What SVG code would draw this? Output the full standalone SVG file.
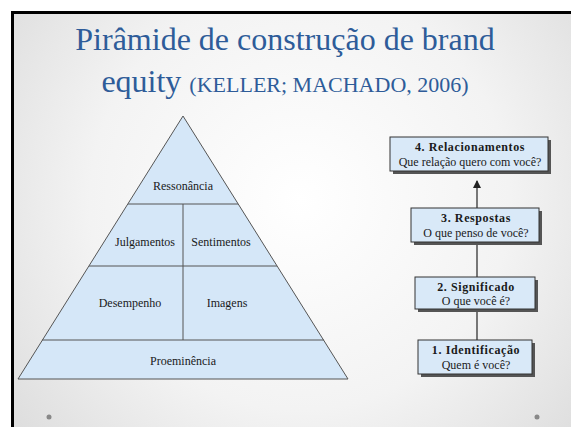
<svg xmlns="http://www.w3.org/2000/svg" width="571" height="427" viewBox="0 0 571 427">
<defs>
<radialGradient id="bg" cx="300" cy="200" r="420" gradientUnits="userSpaceOnUse">
<stop offset="0" stop-color="#ffffff"/>
<stop offset="0.5" stop-color="#f3f3f3"/>
<stop offset="1" stop-color="#d6d6d6"/>
</radialGradient>
<marker id="arr" markerWidth="8" markerHeight="8" refX="7" refY="4" orient="auto" markerUnits="userSpaceOnUse">
<path d="M0,0 L8,4 L0,8 Z" fill="#222"/>
</marker>
</defs>
<style>
.t{font-family:'Liberation Serif','DejaVu Serif',serif;fill:#1a1a1a;font-size:12px;text-anchor:middle}
.b{font-weight:bold;letter-spacing:0.6px}
.title{font-family:'Liberation Serif','DejaVu Serif',serif;fill:#2e5c99;text-anchor:middle}
.band{fill:#d5e7f8;stroke:#555;stroke-width:1}
.box{fill:#d9e9f8;stroke:#333;stroke-width:1}
.sh{fill:#555}
.con{stroke:#333;stroke-width:1.3;fill:none}
</style>
<rect width="571" height="427" fill="#ffffff"/>
<rect x="12" y="12" width="559" height="415" fill="url(#bg)"/>
<path d="M12.5,427 V12.5 H571" fill="none" stroke="#000" stroke-width="3"/>
<text class="title" x="285" y="50" font-size="32">Pirâmide de construção de brand</text>
<text class="title" x="285" y="92"><tspan font-size="32">equity </tspan><tspan font-size="22">(KELLER; MACHADO, 2006)</tspan></text>

<g id="pyramid">
<path class="band" d="M183,116 L348,379 L18,379 Z"/>
<g id="ressonancia"><text class="t" x="183" y="190">Ressonância</text></g>
<g id="julgamentos"><text class="t" x="145" y="246">Julgamentos</text></g>
<g id="sentimentos"><text class="t" x="221" y="246">Sentimentos</text></g>
<g id="desempenho"><text class="t" x="130" y="307">Desempenho</text></g>
<g id="imagens"><text class="t" x="227" y="307">Imagens</text></g>
<g id="proeminencia"><text class="t" x="183" y="365">Proeminência</text></g>
<g fill="none" stroke="#555" stroke-width="1">
<line x1="128" y1="204" x2="238" y2="204"/>
<line x1="89" y1="266" x2="277" y2="266"/>
<line x1="42" y1="340" x2="324" y2="340"/>
<line x1="183" y1="204" x2="183" y2="340"/>
</g>
</g>

<g id="connectors">
<line class="con" x1="477" y1="208" x2="477" y2="181" marker-end="url(#arr)"/>
<line class="con" x1="477" y1="243" x2="477" y2="277"/>
<line class="con" x1="477" y1="309" x2="477" y2="340"/>
</g>

<g id="n4">
<rect class="sh" x="393" y="140" width="158" height="34"/>
<rect class="box" x="390" y="137" width="158" height="34"/>
<text class="t b" x="470" y="151">4. Relacionamentos</text>
<text class="t" x="470" y="166">Que relação quero com você?</text>
</g>
<g id="n3">
<rect class="sh" x="414" y="211" width="128" height="34"/>
<rect class="box" x="411" y="208" width="128" height="34"/>
<text class="t b" x="476" y="222">3. Respostas</text>
<text class="t" x="476" y="237">O que penso de você?</text>
</g>
<g id="n2">
<rect class="sh" x="418" y="280" width="120" height="32"/>
<rect class="box" x="415" y="277" width="120" height="32"/>
<text class="t b" x="476" y="291">2. Significado</text>
<text class="t" x="476" y="305">O que você é?</text>
</g>
<g id="n1">
<rect class="sh" x="421" y="343" width="114" height="34"/>
<rect class="box" x="418" y="340" width="114" height="34"/>
<text class="t b" x="476" y="354">1. Identificação</text>
<text class="t" x="476" y="369">Quem é você?</text>
</g>

<circle cx="49" cy="417" r="2.5" fill="#888"/>
<circle cx="537" cy="417" r="2.5" fill="#888"/>
</svg>
